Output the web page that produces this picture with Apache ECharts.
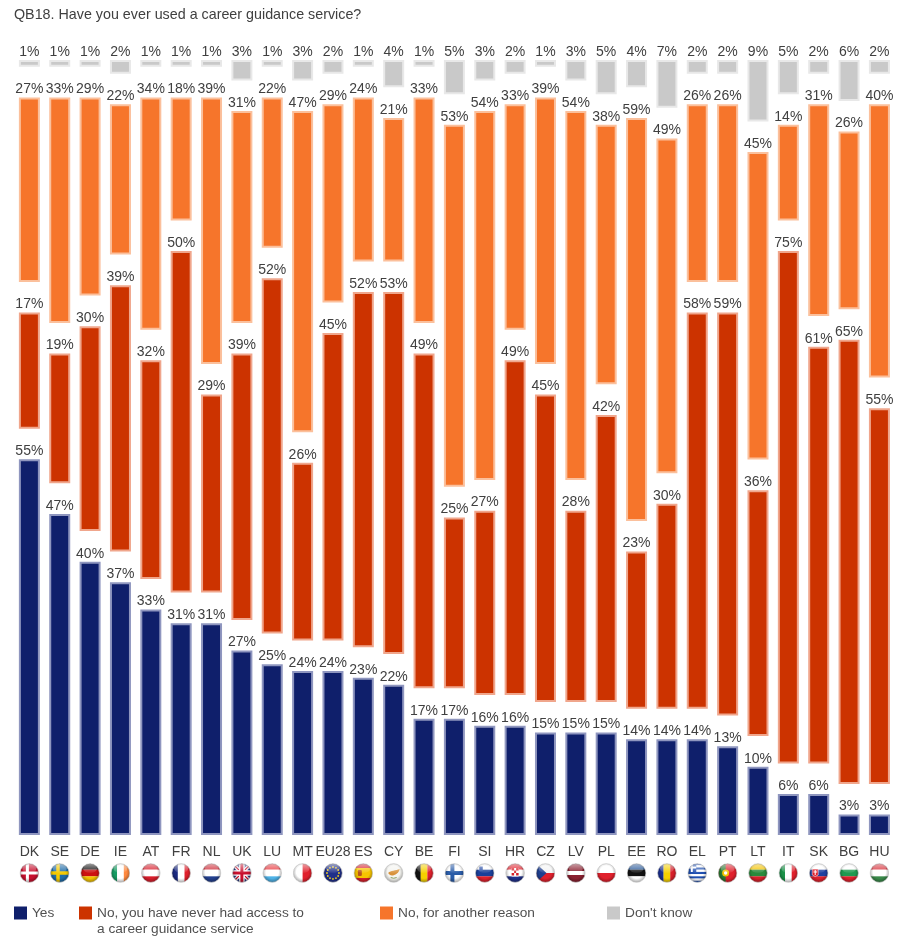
<!DOCTYPE html>
<html><head><meta charset="utf-8">
<style>html,body{margin:0;padding:0;background:#fff}#c{width:901px;height:939px}</style>
<script src="https://cdn.jsdelivr.net/npm/echarts@6/dist/echarts.min.js"></script>
</head><body><div id="c"></div>
<script>
const categories = ['DK','SE','DE','IE','AT','FR','NL','UK','LU','MT','EU28','ES','CY','BE','FI','SI','HR','CZ','LV','PL','EE','RO','EL','PT','LT','IT','SK','BG','HU'];
const yes       = [55,47,40,37,33,31,31,27,25,24,24,23,22,17,17,16,16,15,15,15,14,14,14,13,10,6,6,3,3];
const noAccess  = [17,19,30,39,32,50,29,39,52,26,45,52,53,49,25,27,49,45,28,42,23,30,58,59,36,75,61,65,55];
const noOther   = [27,33,29,22,34,18,39,31,22,47,29,24,21,33,53,54,33,39,54,38,59,49,26,26,45,14,31,26,40];
const dontKnow  = [1,1,1,2,1,1,1,3,1,3,2,1,4,1,5,3,2,1,3,5,4,7,2,2,9,5,2,6,2];
const gapUnits = 4.48;
const gap = categories.map(() => gapUnits);
const names = ['Yes','No, you have never had access to a career guidance service','No, for another reason',"Don't know"];
const title = 'QB18. Have you ever used a career guidance service?';

const hs=(cols,w)=>{const t=(w||cols.map(()=>1));const s=t.reduce((a,b)=>a+b,0);let y=0,o='';cols.forEach((c,i)=>{const h=t[i]/s*40;o+=`<rect x="0" y="${y}" width="40" height="${h+0.2}" fill="${c}"/>`;y+=h});return o};
const vs=(cols)=>{const w=40/cols.length;return cols.map((c,i)=>`<rect x="${i*w}" y="0" width="${w+0.2}" height="40" fill="${c}"/>`).join('')};
const cross=(bg,c,x=15,w=7)=>`<rect width="40" height="40" fill="${bg}"/><rect x="${x}" width="${w}" height="40" fill="${c}"/><rect y="${20-w/2}" width="40" height="${w}" fill="${c}"/>`;
const stars=()=>{let o='';for(let i=0;i<12;i++){const a=i*Math.PI/6;o+=`<circle cx="${20+12*Math.cos(a)}" cy="${20+12*Math.sin(a)}" r="1.8" fill="#f4d020"/>`}return o};
const flagArt={
DK:cross('#c8102e','#fff',13,6),SE:cross('#1f6ca8','#f5c900',13,7),DE:hs(['#111','#cc1111','#f4c300']),IE:vs(['#169b62','#fff','#ff883e']),
AT:hs(['#d81e2c','#fff','#d81e2c']),FR:vs(['#1b2a80','#fff','#e0202c']),NL:hs(['#cf2b37','#fff','#23408f']),
UK:`<rect width="40" height="40" fill="#2b3a80"/><path d="M0 0L40 40M40 0L0 40" stroke="#fff" stroke-width="7"/><path d="M0 0L40 40M40 0L0 40" stroke="#c8102e" stroke-width="2.5"/><path d="M20 0V40M0 20H40" stroke="#fff" stroke-width="11"/><path d="M20 0V40M0 20H40" stroke="#c8102e" stroke-width="6"/>`,
LU:hs(['#e8393f','#fff','#4fb3e8']),MT:vs(['#fff','#e0202c']),EU:`<rect width="40" height="40" fill="#20308a"/>`+stars(),
ES:hs(['#d8202a','#f6c400','#d8202a'],[1,2,1])+`<rect x="9" y="14" width="8" height="12" rx="2" fill="#b8541a"/>`,
CY:`<rect width="40" height="40" fill="#f4f4f0"/><path d="M9 20C14 14 24 16 32 12C30 20 24 24 18 25C14 26 11 23 9 20Z" fill="#d9923a"/><path d="M14 29Q20 32 26 29" stroke="#8aa060" stroke-width="2" fill="none"/>`,
BE:vs(['#111','#f5d000','#e0202c']),FI:cross('#fff','#2a5ca8',12,8),
SI:hs(['#fff','#1a3f9a','#e0202c'])+`<rect x="9" y="7" width="7" height="9" fill="#2a4fa8"/>`,
HR:hs(['#e0202c','#fff','#20308a'])+`<rect x="13" y="10" width="14" height="17" fill="#fff"/><path d="M13 10h5v5h-5zM22 10h5v5h-5zM18 15h4v5h-4zM13 20h5v5h-5zM22 20h5v5h-5z" fill="#d8202a"/>`,
CZ:hs(['#f4f4f4','#e0202c'])+`<path d="M0 0L22 20L0 40Z" fill="#1f3f8f"/>`,LV:hs(['#8a2030','#fff','#8a2030'],[2,1,2]),PL:hs(['#fff','#e0202c']),
EE:hs(['#2a5a9a','#111','#fff']),RO:vs(['#1a2f90','#f5d000','#d8202a']),
EL:hs(['#1f4fb0','#fff','#1f4fb0','#fff','#1f4fb0','#fff','#1f4fb0','#fff','#1f4fb0'])+`<rect width="18" height="18" fill="#1f4fb0"/><rect x="7" width="4" height="18" fill="#fff"/><rect y="7" width="18" height="4" fill="#fff"/>`,
PT:`<rect width="40" height="40" fill="#e0202c"/><rect width="16" height="40" fill="#2a7a30"/><circle cx="16" cy="20" r="7" fill="#f4c300"/><circle cx="16" cy="20" r="3.5" fill="#fff"/>`,
LT:hs(['#f5c400','#2a8a3c','#d8202a']),IT:vs(['#1a9148','#fff','#e0202c']),
SK:hs(['#fff','#1f3f9f','#e0202c'])+`<path d="M7 12h12v12q-6 6-12 0z" fill="#e0202c" stroke="#fff"/><rect x="12" y="14" width="2" height="10" fill="#fff"/><rect x="9.5" y="17" width="7" height="2" fill="#fff"/>`,
BG:hs(['#fff','#1f9a50','#e0202c']),HU:hs(['#d8303a','#fff','#3a8a4a'])
};
const flagKey=c=>c==='EU28'?'EU':c;
const flagUri=k=>{
 const svg=`<svg xmlns="http://www.w3.org/2000/svg" width="80" height="80" viewBox="0 0 40 40"><defs><clipPath id="k"><circle cx="20" cy="20" r="18.5"/></clipPath><radialGradient id="s" cx="50%" cy="45%" r="55%"><stop offset="60%" stop-color="#000" stop-opacity="0"/><stop offset="100%" stop-color="#000" stop-opacity="0.35"/></radialGradient><linearGradient id="g" x1="0" y1="0" x2="0" y2="1"><stop offset="0" stop-color="#fff" stop-opacity="0.55"/><stop offset="1" stop-color="#fff" stop-opacity="0.05"/></linearGradient></defs><g clip-path="url(#k)">${flagArt[k]}<circle cx="20" cy="20" r="19" fill="url(#s)"/><ellipse cx="20" cy="11" rx="14" ry="9" fill="url(#g)"/></g><circle cx="20" cy="20" r="18.7" fill="none" stroke="#bdbdbd" stroke-width="1.3"/></svg>`;
 return 'data:image/svg+xml;charset=utf-8,'+encodeURIComponent(svg);
};
const rich={code:{fontSize:14,color:'#404040',fontFamily:'Liberation Sans',height:21,lineHeight:21,align:'center'}};
categories.forEach(c=>{const k=flagKey(c);rich['f'+k]={backgroundColor:{image:flagUri(k)},width:20,height:20,align:'center'}});

const textCol='#404040', font='Liberation Sans';
const seriesStyle=[['#0f1f6b','#8f96bf'],['#cc3300','#f0a68c'],['#f6752b','#fbc09c'],['#c9c9c9','#e8e8e8']];
const values=[yes,noAccess,noOther,dontKnow];
const series=[];
values.forEach((v,i)=>{
 series.push({name:names[i],type:'bar',stack:'s',data:v,barWidth:21,
  itemStyle:{color:seriesStyle[i][0],borderColor:seriesStyle[i][1],borderWidth:2},
  label:{show:true,position:'top',distance:1,formatter:'{c}%',fontSize:14,color:textCol,fontFamily:font},
  emphasis:{disabled:true}});
 if(i<3) series.push({name:'gap'+i,type:'bar',stack:'s',data:gap,barWidth:21,itemStyle:{color:'transparent'},silent:true,label:{show:false}});
});
const leg=(name,left,top,fmt)=>({show:true,data:[name],left,top,padding:0,orient:'horizontal',itemWidth:13,itemHeight:13,itemGap:0,selectedMode:false,
 icon:'rect',itemStyle:{borderWidth:0},textStyle:{fontSize:13.7,color:'#505050',fontFamily:font,lineHeight:16},formatter:fmt||(n=>n)});
const chart=echarts.init(document.getElementById('c'),null,{renderer:'canvas'});
chart.setOption({
 animation:false,backgroundColor:'#fff',
 title:{text:title,left:14,top:8,padding:0,textStyle:{fontSize:14.3,fontWeight:'normal',color:textCol,fontFamily:font}},
 legend:[leg(names[0],14,905),leg(names[1],79,889,()=>' \nNo, you have never had access to\na career guidance service'),leg(names[2],380,905),leg(names[3],607,905)],
 grid:{left:14.2,width:880.4,top:60,height:775,containLabel:false},
 xAxis:{type:'category',data:categories,axisLine:{show:false},axisTick:{show:false},
  axisLabel:{interval:0,margin:7,hideOverlap:false,formatter:c=>`{code|${c}}\n{f${flagKey(c)}|}`,rich}},
 yAxis:{type:'value',min:0,max:100+3*gapUnits,show:false,splitLine:{show:false}},
 series
});
</script></body></html>
